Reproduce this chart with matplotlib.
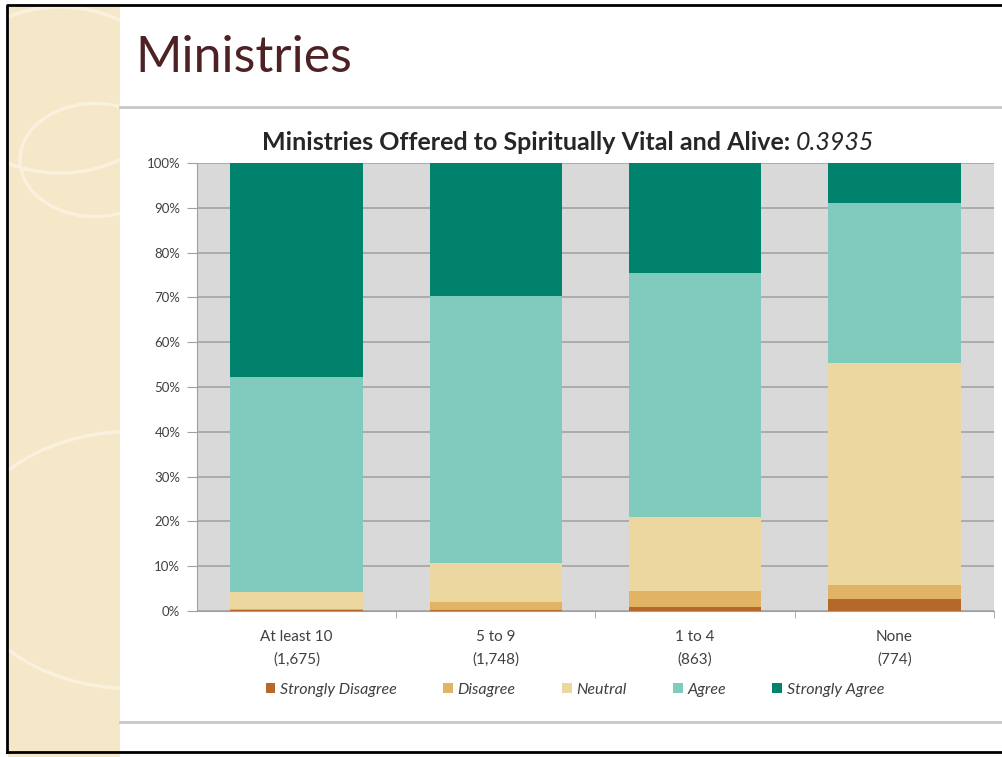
import matplotlib.pyplot as plt
from matplotlib.patches import Rectangle, Circle
from matplotlib.lines import Line2D

categories = ['At least 10\n(1,675)', '5 to 9\n(1,748)', '1 to 4\n(863)', 'None\n(774)']
strongly_disagree = [0.2, 0.3, 0.9, 2.7]
disagree = [0.3, 1.7, 3.6, 3.1]
neutral = [3.8, 8.7, 16.5, 49.6]
agree = [47.9, 59.6, 54.4, 35.6]
strongly_agree = [47.8, 29.7, 24.6, 9.0]

series = ['Strongly Disagree', 'Disagree', 'Neutral', 'Agree', 'Strongly Agree']
colors = ['#b5682a', '#e0b464', '#ecd7a0', '#80cbbe', '#00826c']

W, H = 1003, 757
fig = plt.figure(figsize=(W / 100, H / 100), dpi=100)
fig.patch.set_facecolor('white')

# slide decoration
stripe = Rectangle((8 / W, 0), 112 / W, 1 - 6 / H, transform=fig.transFigure,
                   facecolor='#f4e8c8', edgecolor='none', zorder=0)
fig.patches.append(stripe)
for cx, cy, r in [(95, 160, 75), (130, 560, 170), (60, 90, 110)]:
    c = Circle((cx / W, 1 - cy / H), r / W, transform=fig.transFigure,
               facecolor='none', edgecolor='#f9f1de', lw=2.5, zorder=1)
    c.set_clip_path(stripe)
    fig.patches.append(c)
fig.lines.append(Line2D([120 / W, 1], [1 - 107 / H] * 2, transform=fig.transFigure,
                        color='#c8c8c8', lw=2))
fig.lines.append(Line2D([120 / W, 1], [1 - 722 / H] * 2, transform=fig.transFigure,
                        color='#c8c8c8', lw=2))
fig.lines.append(Line2D([7 / W, 7 / W, 1], [1 - 752 / H, 1 - 5 / H, 1 - 5 / H],
                        transform=fig.transFigure, color='black', lw=2))
fig.lines.append(Line2D([7 / W, 1], [1 - 752 / H] * 2, transform=fig.transFigure,
                        color='black', lw=2))
fig.text(135 / W, 1 - 58 / H, 'Ministries', fontsize=36, color='#4e2224',
         family='Lato', va='center', ha='left')

ax = fig.add_axes([197 / W, 1 - 611 / H, 797 / W, 448 / H])
ax.set_facecolor('#d9d9d9')

x = range(len(categories))
bottom = [0] * len(categories)
data = [strongly_disagree, disagree, neutral, agree, strongly_agree]
for name, vals, c in zip(series, data, colors):
    ax.bar(x, vals, 0.665, bottom=bottom, color=c, label=name, zorder=3)
    bottom = [b + v for b, v in zip(bottom, vals)]

ax.set_xlim(-0.5, 3.5)
ax.set_ylim(0, 100)
ax.set_yticks(range(0, 101, 10))
ax.set_yticklabels([f'{t}%' for t in range(0, 101, 10)], fontsize=9.5, color='#404040', family='Lato')
ax.set_xticks(list(x))
ax.set_xticklabels(categories, fontsize=11, color='#404040', family='Lato', linespacing=1.7)
ax.set_xticks([0.5, 1.5, 2.5, 3.5], minor=True)
ax.tick_params(axis='x', which='major', length=0, pad=14)
ax.tick_params(axis='x', which='minor', length=5, color='#a0a0a0')
ax.tick_params(axis='y', length=7, color='#a0a0a0', pad=5)
ax.yaxis.grid(True, color='#a3a3a3', lw=1.2, zorder=0)
ax.set_axisbelow(True)
for s in ['top', 'right']:
    ax.spines[s].set_visible(False)
ax.spines['left'].set_color('#a0a0a0')
ax.spines['bottom'].set_color('#a0a0a0')

# chart title: bold part then italic value
r = fig.canvas.get_renderer()
t1 = fig.text(0, 1 - 142 / H, 'Ministries Offered to Spiritually Vital and Alive: ',
              fontsize=18, fontweight='bold', color='#262626', family='Lato', va='center')
t2 = fig.text(0, 1 - 142 / H, '0.3935', fontsize=18, style='italic', color='#262626',
              family='Lato', va='center')
w1 = t1.get_window_extent(r).width
w2 = t2.get_window_extent(r).width
start = 568 - (w1 + w2) / 2
t1.set_x(start / W)
t2.set_x((start + w1) / W)

fig.legend(loc='center', bbox_to_anchor=(575 / W, 1 - 690 / H), ncol=5, frameon=False,
           prop={'family': 'Lato', 'style': 'italic', 'size': 11.5}, handlelength=0.6,
           handleheight=0.6, handletextpad=0.3, columnspacing=2.9, labelcolor='#404040')

fig.savefig('out.png', dpi=100)
